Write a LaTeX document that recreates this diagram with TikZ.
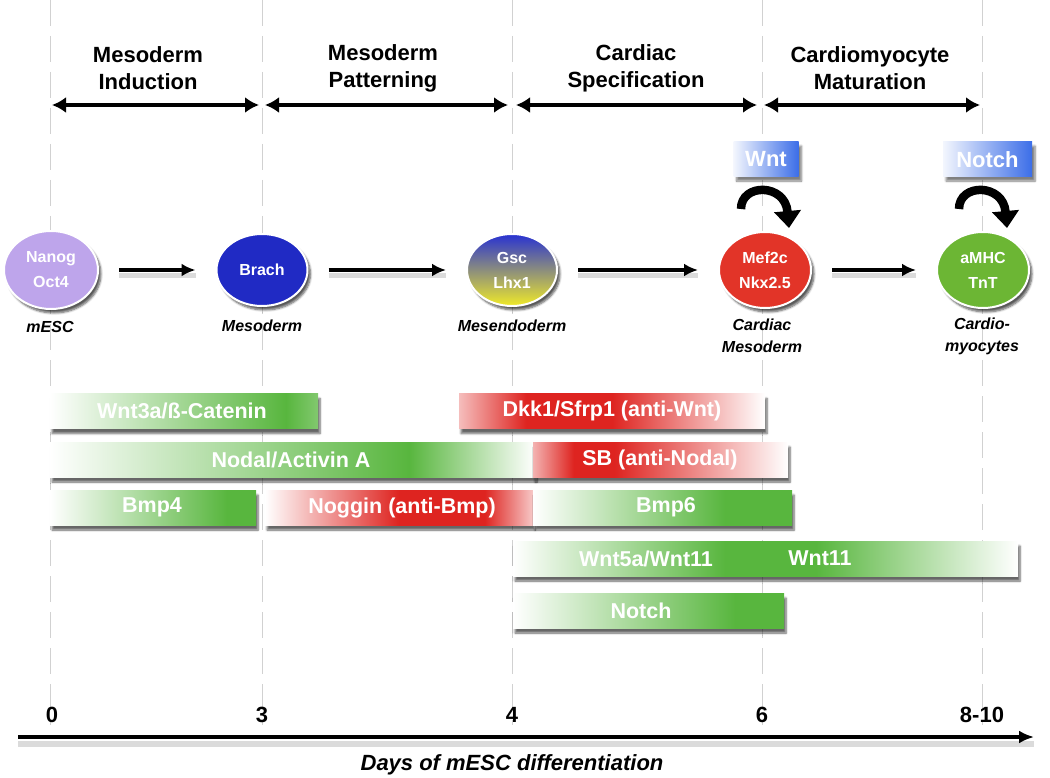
\documentclass[tikz,border=0pt]{standalone}
\usepackage{fontspec}
\setmainfont{Liberation Sans}
\usetikzlibrary{arrows.meta,shapes.geometric,shadows.blur}
\definecolor{mygreen}{RGB}{88,182,62}
\definecolor{myred}{RGB}{222,36,32}
\definecolor{myblue}{RGB}{60,110,232}
\definecolor{lav}{RGB}{190,165,235}
\definecolor{brachblue}{RGB}{32,42,196}
\definecolor{mefred}{RGB}{226,52,40}
\definecolor{mhcgreen}{RGB}{108,182,52}
\definecolor{gscblue}{RGB}{40,50,210}
\definecolor{gscyel}{RGB}{240,234,40}
\pgfdeclarehorizontalshading{shWntA}{100bp}{color(0bp)=(white); color(25bp)=(white); color(69bp)=(mygreen); color(75bp)=(mygreen!75!white); color(100bp)=(mygreen!75!white)}
\pgfdeclarehorizontalshading{shDkk}{100bp}{color(0bp)=(myred!30!white); color(25bp)=(myred!30!white); color(36bp)=(myred); color(50bp)=(myred); color(75bp)=(white); color(100bp)=(white)}
\pgfdeclarehorizontalshading{shNodal}{100bp}{color(0bp)=(white); color(25bp)=(white); color(62bp)=(mygreen); color(75bp)=(white); color(100bp)=(white)}
\pgfdeclarehorizontalshading{shSB}{100bp}{color(0bp)=(myred!35!white); color(25bp)=(myred!35!white); color(33bp)=(myred); color(41bp)=(myred); color(75bp)=(white); color(100bp)=(white)}
\pgfdeclarehorizontalshading{shBmpA}{100bp}{color(0bp)=(white); color(25bp)=(white); color(68bp)=(mygreen); color(100bp)=(mygreen)}
\pgfdeclarehorizontalshading{shNog}{100bp}{color(0bp)=(white); color(25bp)=(white); color(50bp)=(myred); color(66bp)=(myred); color(75bp)=(myred!25!white); color(100bp)=(myred!25!white)}
\pgfdeclarehorizontalshading{shBmpB}{100bp}{color(0bp)=(white); color(25bp)=(white); color(62bp)=(mygreen); color(100bp)=(mygreen)}
\pgfdeclarehorizontalshading{shWntB}{100bp}{color(0bp)=(white); color(25bp)=(white); color(46bp)=(mygreen); color(55bp)=(mygreen); color(75bp)=(white); color(100bp)=(white)}
\pgfdeclarehorizontalshading{shNotch}{100bp}{color(0bp)=(white); color(25bp)=(white); color(66bp)=(mygreen); color(100bp)=(mygreen)}
\pgfdeclarehorizontalshading{shBlue}{100bp}{color(0bp)=(myblue!6!white); color(25bp)=(myblue!6!white); color(75bp)=(myblue); color(100bp)=(myblue)}
\tikzset{
  gridln/.style={draw=black!18, line width=0.7pt, dash pattern=on 26pt off 10pt},
  head/.style={align=center, font=\fontsize{22}{27}\selectfont\bfseries, inner sep=0pt},
  phase/.style={line width=3.8pt, {Latex[length=14pt,width=16pt]}-{Latex[length=14pt,width=16pt]}},
  cell/.style={ellipse, draw=white, line width=2pt, inner sep=0pt, text=white, align=center,
    font=\fontsize{16}{25}\selectfont\bfseries,
    blur shadow={shadow xshift=3pt, shadow yshift=-4pt, shadow blur steps=6, shadow opacity=65}},
  celltag/.style={align=center, font=\fontsize{16}{22}\selectfont\bfseries\itshape, inner sep=0pt},
  flow/.style={line width=3.2pt, -{Latex[length=14pt,width=13pt]}, shorten <=20pt, shorten >=20pt,
    preaction={draw=black!14, line width=5pt, -, transform canvas={yshift=-6pt}}},
  sigbar/.style={rectangle, inner sep=0pt, minimum height=35pt, shade, shading=#1,
    blur shadow={shadow xshift=2pt, shadow yshift=-5pt, shadow blur steps=6, shadow opacity=60}},
  bartxt/.style={text=white, font=\fontsize{21.5}{24}\selectfont\bfseries, inner sep=0pt},
  sigbox/.style={rectangle, inner sep=0pt, minimum height=35pt, shade, shading=shBlue, text=white,
    font=\fontsize{22}{24}\selectfont\bfseries,
    blur shadow={shadow xshift=3pt, shadow yshift=-4pt, shadow blur steps=6, shadow opacity=50}},
  selfloop/.style={line width=8.5pt, -{Triangle[length=17pt,width=26pt]}},
  axisln/.style={line width=3.4pt, -{Latex[length=15pt,width=13pt]},
    preaction={draw=black!14, line width=6pt, -, transform canvas={yshift=-7pt}}},
  daynum/.style={font=\fontsize{22}{24}\selectfont\bfseries, inner sep=0pt},
}
\begin{document}
\begin{tikzpicture}[x=1pt,y=-1pt]
\useasboundingbox (0,0) rectangle (1050,778);
% dashed day lines
\foreach \xx in {50,262,512,762,982}{\draw[gridln] (\xx,0) -- (\xx,725);}
% phase headers
\node[head] (h1) at (148,68) {Mesoderm\\Induction};
\node[head] (h2) at (383,68) {Mesoderm\\Patterning};
\node[head] (h3) at (636,68) {Cardiac\\Specification};
\node[head] (h4) at (870,68) {Cardiomyocyte\\Maturation};
\coordinate (p0) at (50,105);
\coordinate (p3) at (262,105);
\coordinate (p4) at (512,105);
\coordinate (p6) at (762,105);
\coordinate (p8) at (982,105);
\draw[phase, shorten <=2pt, shorten >=3pt] (p0) -- (p3);
\draw[phase, shorten <=3pt, shorten >=4pt] (p3) -- (p4);
\draw[phase, shorten <=4pt, shorten >=5pt] (p4) -- (p6);
\draw[phase, shorten <=2pt, shorten >=2pt] (p6) -- (p8);
% signal boxes
\node[sigbox, minimum width=65pt] (wntbox) at (766,159.5) {Wnt};
\node[sigbox, minimum width=89pt] (notchbox) at (987.5,159.5) {Notch};
% cells
\node[cell, fill=lav, minimum width=94pt, minimum height=78pt] (esc) at (51,270) {Nanog\\Oct4};
\node[cell, fill=brachblue, minimum width=91pt, minimum height=72pt] (brach) at (262,270) {Brach};
\node[cell, top color=gscblue, bottom color=gscyel, minimum width=90pt, minimum height=72pt] (gsc) at (512,270) {Gsc\\Lhx1};
\node[cell, fill=mefred, minimum width=92pt, minimum height=76pt] (mef) at (765,270) {Mef2c\\Nkx2.5};
\node[cell, fill=mhcgreen, minimum width=92pt, minimum height=76pt] (mhc) at (983,270) {aMHC\\TnT};
\draw[flow] (esc) -- (brach);
\draw[flow] (brach) -- (gsc);
\draw[flow] (gsc) -- (mef);
\draw[flow] (mef) -- (mhc);
% self loops
\draw[selfloop] ([shift={(-24,-22)}]mef.north) .. controls ([shift={(-24,-48)}]mef.north) and ([shift={(20,-48)}]mef.north) .. ([shift={(24,-3)}]mef.north);
\draw[selfloop] ([shift={(-24,-22)}]mhc.north) .. controls ([shift={(-24,-48)}]mhc.north) and ([shift={(20,-48)}]mhc.north) .. ([shift={(24,-3)}]mhc.north);
% cell labels
\node[celltag] (lesc) at (50,327) {mESC};
\node[celltag] (lbrach) at (262,326) {Mesoderm};
\node[celltag] (lgsc) at (512,326) {Mesendoderm};
\node[celltag] (lmef) at (762,336) {Cardiac\\Mesoderm};
\node[celltag] (lmhc) at (982,336) {Cardio-\\myocytes};
% factor bars
\node[sigbar=shWntA, minimum width=268pt] (bwnt) at (184,411) {};
\node[sigbar=shDkk, minimum width=306pt] (bdkk) at (612,411) {};
\node[sigbar=shNodal, minimum width=485pt] (bnodal) at (292.5,459.5) {};
\node[sigbar=shSB, minimum width=255pt] (bsb) at (660.5,459.5) {};
\node[sigbar=shBmpA, minimum width=206pt] (bbmp4) at (153,507.5) {};
\node[sigbar=shNog, minimum width=268pt] (bnog) at (399,507.5) {};
\node[sigbar=shBmpB, minimum width=259pt] (bbmp6) at (662.5,507.5) {};
\node[sigbar=shWntB, minimum width=505pt] (bwnt5) at (765.5,558.5) {};
\node[sigbar=shNotch, minimum width=271pt] (bnotch) at (648.5,610.5) {};
\node[bartxt] (twnt) at (182,411) {Wnt3a/ß-Catenin};
\node[bartxt] (tdkk) at (612,411) {Dkk1/Sfrp1 (anti-Wnt)};
\node[bartxt] (tnodal) at (291,459.5) {Nodal/Activin A};
\node[bartxt] (tsb) at (660,459.5) {SB (anti-Nodal)};
\node[bartxt] (tbmp4) at (152,507.5) {Bmp4};
\node[bartxt] (tnog) at (402,507.5) {Noggin (anti-Bmp)};
\node[bartxt] (tbmp6) at (666,507.5) {Bmp6};
\node[bartxt] (twnt5) at (646,558.5) {Wnt5a/Wnt11};
\node[bartxt] (twnt11) at (820,558.5) {Wnt11};
\node[bartxt] (tnotch) at (641,610.5) {Notch};
% axis
\node[daynum] (d0) at (52,715) {0};
\node[daynum] (d3) at (262,715) {3};
\node[daynum] (d4) at (512,715) {4};
\node[daynum] (d6) at (762,715) {6};
\node[daynum] (d8) at (982,715) {8-10};
\coordinate (ax0) at (18,737);
\coordinate (ax1) at (1034,737);
\draw[axisln] (ax0) -- (ax1);
\node[font=\fontsize{22}{24}\selectfont\bfseries\itshape, inner sep=0pt] (axlabel) at (512,765) {Days of mESC differentiation};
\end{tikzpicture}
\end{document}
